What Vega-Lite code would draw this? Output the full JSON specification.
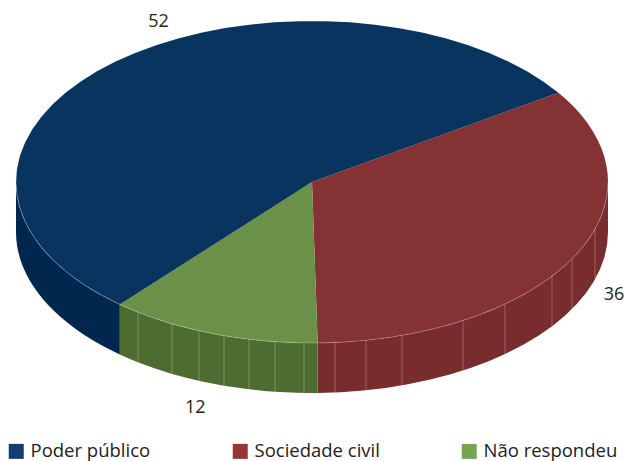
{
  "$schema": "https://vega.github.io/schema/vega-lite/v6.json",
  "width": 625,
  "height": 461,
  "padding": 0,
  "autosize": {"type": "none"},
  "background": "#ffffff",
  "view": {"stroke": null},
  "config": {"font": "Open Sans"},
  "datasets": {
    "slices": [
      {"name": "Sociedade civil", "value": 36, "rank": 1, "step": [0,1,2,3,4,5,6,7,8,9,10,11,12,13,14,15,16,17,18,19,20,21,22,23,24,25,26,27,28,29,30,31,32,33,34,35,36,37,38,39,40,41]},
      {"name": "Não respondeu", "value": 12, "rank": 2, "step": [0,1,2,3,4,5,6,7,8,9,10,11,12,13,14,15,16,17,18,19,20,21,22,23,24,25,26,27,28,29,30,31,32,33,34,35,36,37,38,39,40,41]},
      {"name": "Poder público", "value": 52, "rank": 3, "step": [0,1,2,3,4,5,6,7,8,9,10,11,12,13,14,15,16,17,18,19,20,21,22,23,24,25,26,27,28,29,30,31,32,33,34,35,36,37,38,39,40,41]}
    ],
    "facets": [
      {"edge": 138}, {"edge": 172}, {"edge": 199}, {"edge": 224}, {"edge": 249}, {"edge": 275}, {"edge": 304},
      {"edge": 335}, {"edge": 366}, {"edge": 402}, {"edge": 463}, {"edge": 505}, {"edge": 552}, {"edge": 572}, {"edge": 595}
    ]
  },
  "layer": [
    {
      "data": {"name": "slices"},
      "transform": [
        {"stack": "value", "sort": [{"field": "rank"}], "as": ["v0", "v1"]},
        {"calculate": "52 + 3.6 * datum.v0", "as": "a0"},
        {"calculate": "52 + 3.6 * datum.v1", "as": "a1"},
        {"calculate": "datum.a0 + 2.6 * cos(datum.a0 * PI / 180) + 3.5 * sin(datum.a0 * PI / 180)", "as": "d0"},
        {"calculate": "datum.a1 + 2.6 * cos(datum.a1 * PI / 180) + 3.5 * sin(datum.a1 * PI / 180)", "as": "d1"},
        {"calculate": "max(datum.d0, 90)", "as": "lo"},
        {"calculate": "min(datum.d1, 270)", "as": "hi"},
        {"flatten": ["step"]},
        {"calculate": "datum.step <= 20 ? datum.step / 20 : (41 - datum.step) / 20", "as": "t"},
        {"calculate": "(datum.lo + (datum.hi - datum.lo) * datum.t) * PI / 180", "as": "ang"},
        {"calculate": "312 + 296 * sin(datum.ang)", "as": "px"},
        {"calculate": "182 - 161 * cos(datum.ang) + (datum.step <= 20 ? 0 : 50)", "as": "py"}
      ],
      "mark": {"type": "line", "filled": true, "strokeWidth": 0, "interpolate": "linear-closed"},
      "encoding": {
        "x": {"field": "px", "type": "quantitative", "scale": {"domain": [0, 625], "nice": false, "zero": false}, "axis": null},
        "y": {"field": "py", "type": "quantitative", "scale": {"domain": [461, 0], "nice": false, "zero": false}, "axis": null},
        "order": {"field": "step", "type": "quantitative"},
        "fill": {
          "field": "name", "type": "nominal", "legend": null,
          "scale": {"domain": ["Poder público", "Sociedade civil", "Não respondeu"], "range": ["#02274f", "#792c2d", "#4d6d30"]}
        }
      }
    },
    {
      "data": {"name": "slices"},
      "transform": [
        {"stack": "value", "sort": [{"field": "rank"}], "as": ["v0", "v1"]},
        {"calculate": "52 + 3.6 * datum.v0", "as": "a0"},
        {"calculate": "52 + 3.6 * datum.v1", "as": "a1"},
        {"calculate": "datum.a0 + 2.6 * cos(datum.a0 * PI / 180) + 3.5 * sin(datum.a0 * PI / 180)", "as": "d0"},
        {"calculate": "datum.a1 + 2.6 * cos(datum.a1 * PI / 180) + 3.5 * sin(datum.a1 * PI / 180)", "as": "d1"},
        {"flatten": ["step"]},
        {"calculate": "(datum.d0 + (datum.d1 - datum.d0) * (datum.step - 1) / 40) * PI / 180", "as": "ang"},
        {"calculate": "datum.step === 0 ? 312 : 312 + 296 * sin(datum.ang)", "as": "px"},
        {"calculate": "datum.step === 0 ? 182 : 182 - 161 * cos(datum.ang)", "as": "py"}
      ],
      "mark": {"type": "line", "filled": true, "strokeWidth": 0, "interpolate": "linear-closed"},
      "encoding": {
        "x": {"field": "px", "type": "quantitative", "axis": null},
        "y": {"field": "py", "type": "quantitative", "axis": null},
        "order": {"field": "step", "type": "quantitative"},
        "fill": {
          "field": "name", "type": "nominal", "legend": null,
          "scale": {"domain": ["Poder público", "Sociedade civil", "Não respondeu"], "range": ["#0a3460", "#843234", "#6a9147"]}
        }
      }
    },
    {
      "data": {"name": "facets"},
      "transform": [
        {"calculate": "182 + 161 * sqrt(1 - pow((datum.edge - 312) / 296, 2))", "as": "rimY"},
        {"calculate": "datum.rimY + 50", "as": "baseY"}
      ],
      "mark": {"type": "rule", "stroke": "#ffffff", "strokeOpacity": 0.25, "strokeWidth": 1},
      "encoding": {
        "x": {"field": "edge", "type": "quantitative", "axis": null},
        "y": {"field": "rimY", "type": "quantitative", "axis": null},
        "y2": {"field": "baseY"}
      }
    },
    {
      "data": {"name": "slices"},
      "transform": [
        {"filter": "datum.rank === 1"},
        {"flatten": ["step"]},
        {"calculate": "(90 + 180 * datum.step / 41) * PI / 180", "as": "ang"},
        {"calculate": "312 + 296 * sin(datum.ang)", "as": "px"},
        {"calculate": "182 - 161 * cos(datum.ang)", "as": "py"}
      ],
      "mark": {"type": "line", "stroke": "#ffffff", "strokeOpacity": 0.35, "strokeWidth": 0.7},
      "encoding": {
        "x": {"field": "px", "type": "quantitative", "axis": null},
        "y": {"field": "py", "type": "quantitative", "axis": null},
        "order": {"field": "step", "type": "quantitative"}
      }
    },
    {
      "data": {"name": "slices"},
      "transform": [
        {"stack": "value", "sort": [{"field": "rank"}], "as": ["v0", "v1"]},
        {"calculate": "(52 + 3.6 * (datum.v0 + datum.v1) / 2) * PI / 180", "as": "mid"},
        {"calculate": "346 + 315 * sin(datum.mid) + 29 * cos(datum.mid)", "as": "px"},
        {"calculate": "193.5 - 3 * sin(datum.mid) - 232 * cos(datum.mid)", "as": "py"}
      ],
      "mark": {"type": "text", "fontSize": 18, "fill": "#222222", "align": "center", "baseline": "middle"},
      "encoding": {
        "x": {"field": "px", "type": "quantitative", "axis": null},
        "y": {"field": "py", "type": "quantitative", "axis": null},
        "text": {"field": "value", "type": "quantitative"}
      }
    },
    {
      "data": {"name": "slices"},
      "mark": {"type": "point", "filled": true, "size": 0, "shape": "square"},
      "encoding": {
        "fill": {
          "field": "name", "type": "nominal",
          "scale": {"domain": ["Poder público", "Sociedade civil", "Não respondeu"], "range": ["#123f70", "#953735", "#77a450"]},
          "legend": {
            "title": null, "orient": "none", "legendX": 7, "legendY": 442, "direction": "horizontal", "columns": 3,
            "columnPadding": 80, "symbolType": "square", "symbolSize": 225, "symbolOpacity": 1, "symbolStrokeWidth": 0,
            "labelFont": "Open Sans", "labelFontSize": 18.5, "labelColor": "#222222", "labelOffset": 5, "padding": 0
          }
        }
      }
    }
  ],
  "resolve": {"scale": {"fill": "independent"}}
}
